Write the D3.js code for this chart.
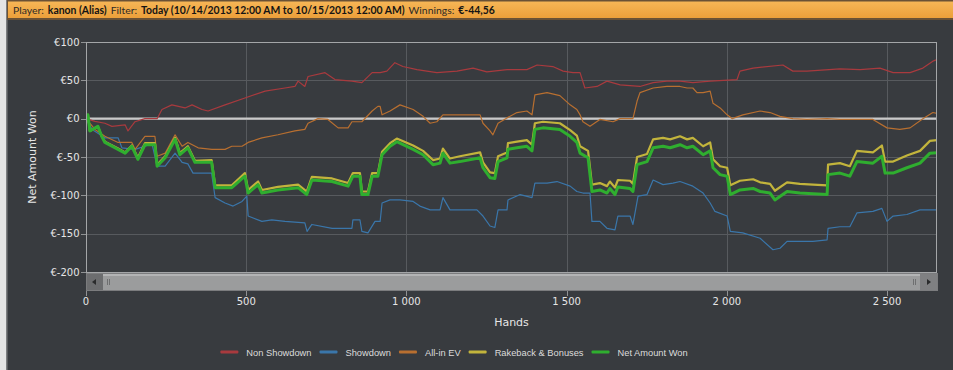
<!DOCTYPE html>
<html><head><meta charset="utf-8">
<script src="https://cdn.jsdelivr.net/npm/d3@7"></script>
<style>html,body{margin:0;padding:0;background:#383b3f;overflow:hidden}</style>
</head><body><svg id="c" width="953" height="370"></svg>
<script>
// ---------- data (hands, value in €) ----------
const nonShowdownHands = [0,28,59,81,122,131,153,184,222,237,268,309,331,362,381,434,496,559,621,652,662,683,693,746,777,830,861,893,918,939,964,989,1033,1095,1158,1208,1251,1314,1376,1408,1457,1489,1520,1542,1557,1595,1626,1667,1729,1770,1813,1854,1894,1948,2032,2041,2082,2175,2206,2250,2353,2416,2478,2519,2572,2612,2643,2656];
const nonShowdownValues = [0,-3.5,-6,-10,-8,-16,-4,0,0,12,18,14,18,12,10,18,27,36,40,42,49,42,55,60,51,49,47,60,60,62,73,68,64,60,62,66,61,64,64,70,68,62,60,60,40,42,49,44,42,47,49,49,47,49,51,62,66,70,62,62,65,64,66,60,60,66,75,77];

const showdownHands = [0,19,59,100,112,153,206,222,247,278,300,318,334,392,403,434,459,487,502,506,549,580,621,683,690,705,768,830,833,855,861,880,902,918,924,949,980,1021,1042,1074,1105,1114,1136,1167,1220,1239,1261,1276,1286,1314,1317,1355,1392,1401,1439,1470,1511,1532,1551,1573,1579,1604,1626,1651,1660,1698,1707,1723,1751,1770,1801,1832,1854,1894,1926,1948,1963,2001,2011,2050,2104,2144,2166,2188,2228,2269,2313,2316,2353,2384,2406,2456,2484,2500,2519,2562,2603,2656];
const showdownValues = [0,-14,-25,-25,-38,-40,-33,-62,-62,-45,-57,-59,-71,-71,-103,-110,-114,-108,-101,-127,-134,-132,-134,-136,-147,-138,-143,-143,-132,-132,-147,-149,-134,-134,-110,-106,-106,-108,-114,-119,-119,-103,-119,-119,-119,-127,-140,-142,-119,-119,-106,-99,-103,-84,-84,-82,-88,-95,-97,-97,-134,-134,-143,-145,-127,-127,-138,-101,-99,-80,-86,-84,-82,-88,-97,-110,-121,-127,-147,-149,-156,-171,-169,-160,-160,-160,-158,-143,-141,-141,-123,-121,-117,-134,-127,-125,-119,-119];

const allInEvHands = [0,28,59,100,143,153,184,215,222,247,278,300,318,350,393,434,455,487,506,549,599,652,683,693,724,755,787,818,830,861,893,911,918,924,949,980,1021,1052,1074,1095,1114,1136,1189,1230,1239,1261,1270,1286,1314,1345,1376,1392,1401,1439,1479,1511,1532,1542,1551,1573,1604,1645,1667,1707,1720,1729,1770,1813,1854,1876,1894,1907,1926,1948,1957,1979,2001,2017,2050,2104,2135,2166,2206,2250,2313,2353,2416,2456,2500,2540,2572,2612,2643,2656];
const allInEvValues = [0,-14,-23,-31,-31,-40,-23,-23,-49,-45,-21,-36,-31,-38,-40,-40,-36,-36,-31,-25,-21,-16,-14,-6,0,-1,-12,-12,-4,-4,10,16,16,5,10,18,12,3,-6,-4,5,5,5,5,-6,-16,-21,-6,1,8,10,5,31,34,30,18,12,5,-4,-10,-1,-4,0,0,23,34,40,42,42,40,40,34,34,36,20,14,5,0,5,10,8,3,0,-1,0,-1,-1,-1,-12,-14,-12,0,8,7];

const netHands = [0,6,12,37,49,59,100,122,143,162,184,215,222,247,278,293,318,340,392,403,455,496,506,537,549,599,662,689,705,768,818,833,855,861,880,893,911,924,949,970,1021,1052,1083,1105,1114,1136,1167,1230,1239,1261,1276,1286,1314,1317,1345,1376,1392,1401,1426,1479,1511,1532,1542,1567,1579,1604,1626,1635,1651,1660,1698,1707,1720,1751,1770,1801,1823,1854,1876,1894,1926,1948,1957,1979,2001,2011,2041,2082,2104,2135,2150,2188,2228,2269,2313,2316,2353,2384,2406,2456,2484,2494,2519,2562,2603,2634,2656];
const rakebackValues = [0,5,-16,-10,-23,-30,-39,-44,-35,-51,-32,-32,-60,-49,-25,-45,-36,-55,-54,-87,-87,-71,-93,-82,-93,-89,-86,-95,-76,-78,-84,-71,-71,-95,-95,-71,-71,-43,-32,-26,-35,-42,-54,-52,-39,-52,-49,-44,-57,-70,-71,-49,-44,-32,-30,-28,-34,-6,-4,-6,-15,-22,-36,-42,-86,-84,-88,-82,-90,-80,-81,-85,-50,-46,-27,-25,-27,-23,-27,-25,-36,-31,-53,-62,-64,-87,-81,-79,-83,-85,-94,-83,-85,-86,-87,-60,-58,-62,-42,-44,-35,-56,-56,-48,-42,-29,-28];
const netWonValues = [0,5,-16,-10,-23,-31,-40,-45,-36,-53,-34,-34,-62,-51,-27,-47,-38,-57,-57,-90,-90,-75,-97,-86,-97,-93,-90,-99,-80,-82,-88,-75,-75,-99,-99,-75,-75,-47,-36,-30,-40,-47,-60,-58,-45,-58,-56,-51,-64,-77,-78,-56,-51,-40,-38,-36,-42,-14,-12,-14,-23,-31,-45,-51,-95,-93,-97,-91,-99,-89,-91,-95,-60,-56,-38,-36,-38,-34,-38,-36,-47,-42,-64,-73,-75,-99,-93,-91,-95,-97,-106,-95,-97,-98,-99,-73,-71,-75,-56,-58,-49,-71,-71,-64,-58,-45,-44.56];

const seriesNames = ["Non Showdown","Showdown","All-in EV","Rakeback & Bonuses","Net Amount Won"];
const seriesColors = ["#a83a3e","#3a76aa","#b86f30","#c2b43c","#2fae2f"];
const seriesWidths = [1.2,1.2,1.2,2.2,3];
const yTicks = [100,50,0,-50,-100,-150,-200];
const xTicks = [0,500,1000,1500,2000,2500];
const headerParts = [["Player:",false],["kanon (Alias)",true],["Filter:",false],["Today (10/14/2013 12:00 AM to 10/15/2013 12:00 AM)",true],["Winnings:",false],["€-44,56",true]];

// ---------- drawing ----------
const svg = d3.select("#c");
const W = 953, H = 370;
const L = 86, R = 937, T = 42, B = 272;
const x = d3.scaleLinear().domain([0, 2656]).range([L, R]);
const y = d3.scaleLinear().domain([-200, 100]).range([B, T]);

svg.append("rect").attr("width", W).attr("height", H).attr("fill", "#383b3f");
svg.append("rect").attr("x",0).attr("y",0).attr("width",6).attr("height",H).attr("fill","#e4e4e4");
svg.append("rect").attr("x",6).attr("y",0).attr("width",1.5).attr("height",H).attr("fill","#7c7e80");

// header
const defs = svg.append("defs");
const g1 = defs.append("linearGradient").attr("id","hg").attr("x1",0).attr("y1",0).attr("x2",0).attr("y2",1);
g1.append("stop").attr("offset","0%").attr("stop-color","#f6b656");
g1.append("stop").attr("offset","100%").attr("stop-color","#ec9f3a");
svg.append("rect").attr("x",7).attr("y",0).attr("width",W-7).attr("height",20).attr("fill","#6a5135");
svg.append("rect").attr("x",8).attr("y",1.5).attr("width",W-8).attr("height",16.5).attr("fill","url(#hg)");
const hg = svg.append("g");
const gap = 4;
function layoutHeader(fs) {
  hg.selectAll("*").remove();
  let hx = 13;
  headerParts.forEach(([t,b]) => {
    const el = hg.append("text").attr("x",hx).attr("y",14)
      .attr("font-family","Lato, 'Open Sans', sans-serif").attr("font-size",fs)
      .attr("font-weight", b ? "bold" : "normal").attr("fill", b ? "#141414" : "#2e2a26").text(t);
    hx += el.node().getComputedTextLength() + gap;
  });
  return hx - gap - 13;
}
const w11 = layoutHeader(11);
layoutHeader(11 * (482 - gap*5) / (w11 - gap*5));

// grid
const grid = svg.append("g").attr("shape-rendering","crispEdges");
grid.selectAll(".gy").data(yTicks.filter(d => d !== 100 && d !== -200)).enter().append("line")
  .attr("x1",L).attr("x2",R).attr("y1",d=>Math.round(y(d))+0.5).attr("y2",d=>Math.round(y(d))+0.5)
  .attr("stroke","#575a5e").attr("stroke-width",1);
grid.selectAll(".gx").data(xTicks.filter(d => d !== 0)).enter().append("line")
  .attr("y1",T).attr("y2",B).attr("x1",d=>Math.round(x(d))+0.5).attr("x2",d=>Math.round(x(d))+0.5)
  .attr("stroke","#575a5e").attr("stroke-width",1);

// zero line
svg.append("line").attr("x1",L).attr("x2",R).attr("y1",y(0)).attr("y2",y(0))
  .attr("stroke","#c9c9c9").attr("stroke-width",2.2);

// series
const series = [
  [nonShowdownHands, nonShowdownValues],
  [showdownHands, showdownValues],
  [allInEvHands, allInEvValues],
  [netHands, rakebackValues],
  [netHands, netWonValues]
];
const line = d3.line().x(d=>x(d[0])).y(d=>y(d[1])).curve(d3.curveLinear);
const clip = defs.append("clipPath").attr("id","pc");
clip.append("rect").attr("x",L).attr("y",T-3).attr("width",R-L).attr("height",B-T+3);
const sg = svg.append("g").attr("clip-path","url(#pc)");
series.forEach(([hs, vs], i) => {
  const pts = hs.map((h,k)=>[h, vs[k]]);
  sg.append("path").datum(pts).attr("d", line).attr("fill","none")
    .attr("stroke", seriesColors[i]).attr("stroke-width", seriesWidths[i])
    .attr("stroke-linejoin","round");
});

// plot border
svg.append("rect").attr("x",L+0.5).attr("y",T+0.5).attr("width",R-L-1).attr("height",B-T)
  .attr("fill","none").attr("stroke","#a4a6a8").attr("stroke-width",1).attr("shape-rendering","crispEdges");

// y axis
const yAxis = svg.append("g");
yAxis.selectAll("line").data(yTicks).enter().append("line")
  .attr("x1",81).attr("x2",L).attr("y1",d=>Math.round(y(d))+0.5).attr("y2",d=>Math.round(y(d))+0.5)
  .attr("stroke","#909294").attr("shape-rendering","crispEdges");
yAxis.selectAll("text").data(yTicks).enter().append("text")
  .attr("x",79.5).attr("y",d=>y(d)+3.5).attr("text-anchor","end")
  .attr("font-family","'DejaVu Sans', Verdana, sans-serif").attr("font-size",10).attr("fill","#e6e6e6")
  .text(d=>"€"+d);
svg.append("text").attr("transform","translate(36,157) rotate(-90)").attr("text-anchor","middle")
  .attr("font-family","'DejaVu Sans', Verdana, sans-serif").attr("font-size",11).attr("fill","#e6e6e6")
  .text("Net Amount Won");

// scrollbar
const sb = svg.append("g").attr("shape-rendering","crispEdges");
sb.append("rect").attr("x",L).attr("y",273).attr("width",R-L+1).attr("height",18).attr("fill","#7b7c7e");
sb.append("rect").attr("x",L+1).attr("y",274).attr("width",16).attr("height",16).attr("fill","#6c6d6f");
sb.append("rect").attr("x",L+17).attr("y",274).attr("width",R-L-34).attr("height",16).attr("fill","#9b9c9d");
sb.append("rect").attr("x",L+17).attr("y",274).attr("width",R-L-34).attr("height",2).attr("fill","#b3b4b5");
sb.append("rect").attr("x",R-17).attr("y",274).attr("width",17).attr("height",16).attr("fill","#7f8082");
[L+21, L+23, R-24, R-22].forEach(gx => sb.append("rect").attr("x",gx).attr("y",279).attr("width",1).attr("height",6).attr("fill","#6e6f70"));
svg.append("path").attr("d",`M${L+6},282 L${L+10},279 L${L+10},285 Z`).attr("fill","#2a2b2c");
svg.append("path").attr("d",`M${R-6},282 L${R-10},279 L${R-10},285 Z`).attr("fill","#2a2b2c");

// x axis
const fmt = d3.formatLocale({decimal:",", thousands:" ", grouping:[3], currency:["€",""]}).format(",d");
const xAxis = svg.append("g");
xAxis.selectAll("line").data(xTicks).enter().append("line")
  .attr("y1",291).attr("y2",296).attr("x1",d=>Math.round(x(d))+0.5).attr("x2",d=>Math.round(x(d))+0.5)
  .attr("stroke","#909294").attr("shape-rendering","crispEdges");
xAxis.selectAll("text").data(xTicks).enter().append("text")
  .attr("x",d=>x(d)).attr("y",305).attr("text-anchor","middle")
  .attr("font-family","'DejaVu Sans', Verdana, sans-serif").attr("font-size",10).attr("fill","#e6e6e6")
  .text(d=>fmt(d));
svg.append("text").attr("x",(L+R)/2).attr("y",326).attr("text-anchor","middle")
  .attr("font-family","'DejaVu Sans', Verdana, sans-serif").attr("font-size",11).attr("fill","#e6e6e6")
  .text("Hands");

// legend
const lg = svg.append("g");
let cx = 0;
seriesNames.forEach((n,i) => {
  const it = lg.append("g");
  it.append("rect").attr("x",cx).attr("y",-1.5).attr("width",18).attr("height",3).attr("fill",seriesColors[i]).attr("rx",1);
  const t = it.append("text").attr("x",cx+26).attr("y",3.5)
    .attr("font-family","'Liberation Sans', Arial, sans-serif").attr("font-size",9.3).attr("fill","#dcdcdc").text(n);
  cx += 26 + t.node().getComputedTextLength() + 8;
});
const lw = cx - 8;
lg.attr("transform",`translate(${454 - lw/2},352)`);
</script></body></html>
